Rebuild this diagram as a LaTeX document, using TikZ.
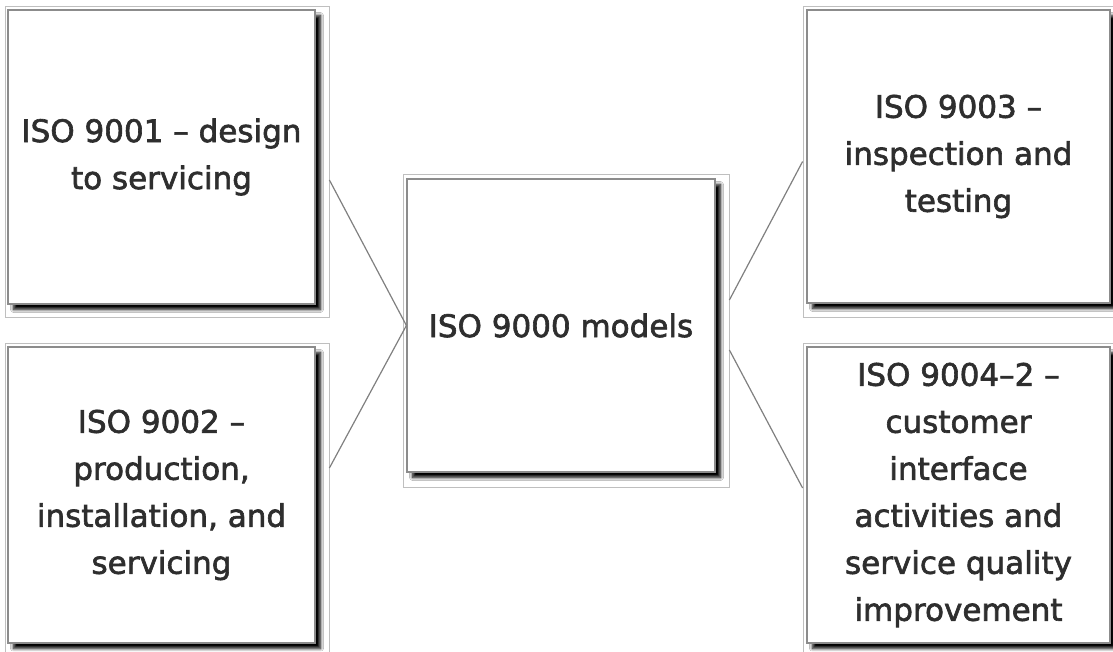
\documentclass[tikz,border=0pt]{standalone}
\usepackage{fontspec}
\setmainfont{DejaVu Sans}
\newfontfamily\topicfont{DejaVu Sans}[Ligatures=TeX, FakeBold=2]
\usetikzlibrary{shadows.blur}
\tikzset{
  frame/.style={draw=black!25, line width=0.8pt, rectangle, inner sep=0pt},
  topic/.style={rectangle, draw=black!45, line width=1.2pt, fill=white,
    inner sep=0pt, align=center, text=black!82,
    font=\topicfont\fontsize{31}{47}\selectfont,
    blur shadow={shadow xshift=5.5pt, shadow yshift=-5.5pt,
      shadow blur radius=3pt, shadow blur steps=7, shadow opacity=100}},
  link/.style={draw=black!50, line width=1.2pt}
}
\begin{document}
\begin{tikzpicture}[x=1pt, y=-1pt]
\clip (0,0) rectangle (1113,651);
\fill[white] (0,0) rectangle (1113,651);

% selection frames behind each topic
\node[frame, minimum width=324pt, minimum height=311pt] (f1) at (167,161.5) {};
\node[frame, minimum width=324pt, minimum height=312pt] (f2) at (167,499) {};
\node[frame, minimum width=324pt, minimum height=311pt] (f3) at (965,161.5) {};
\node[frame, minimum width=324pt, minimum height=312pt] (f4) at (965,499) {};
\node[frame, minimum width=326pt, minimum height=313pt] (fc) at (566,330.5) {};

% topic boxes
\node[topic, minimum width=307pt, minimum height=294pt] (b1) at (161.5,157)
  {ISO 9001 – design\\to servicing};
\node[topic, minimum width=307pt, minimum height=296pt] (b2) at (161.5,495)
  {ISO 9002 –\\production,\\installation, and\\servicing};
\node[topic, minimum width=303pt, minimum height=293pt] (b3) at (958.5,156.5)
  {ISO 9003 –\\inspection and\\testing};
\node[topic, minimum width=303pt, minimum height=296pt] (b4) at (958.5,495)
  {ISO 9004–2 –\\customer\\interface\\activities and\\service quality\\improvement};
\node[topic, minimum width=308pt, minimum height=293pt] (c) at (561,325.5)
  {ISO 9000 models};

% connectors
\draw[link] ([yshift=-18.5pt]f1.east) -- (c.west);
\draw[link] ([yshift=31pt]f2.east) -- (c.west);
\draw[link] ([yshift=30.5pt]fc.east) -- (f3.west);
\draw[link] ([yshift=-19.5pt]fc.east) -- ([yshift=11pt]f4.west);
\end{tikzpicture}
\end{document}
